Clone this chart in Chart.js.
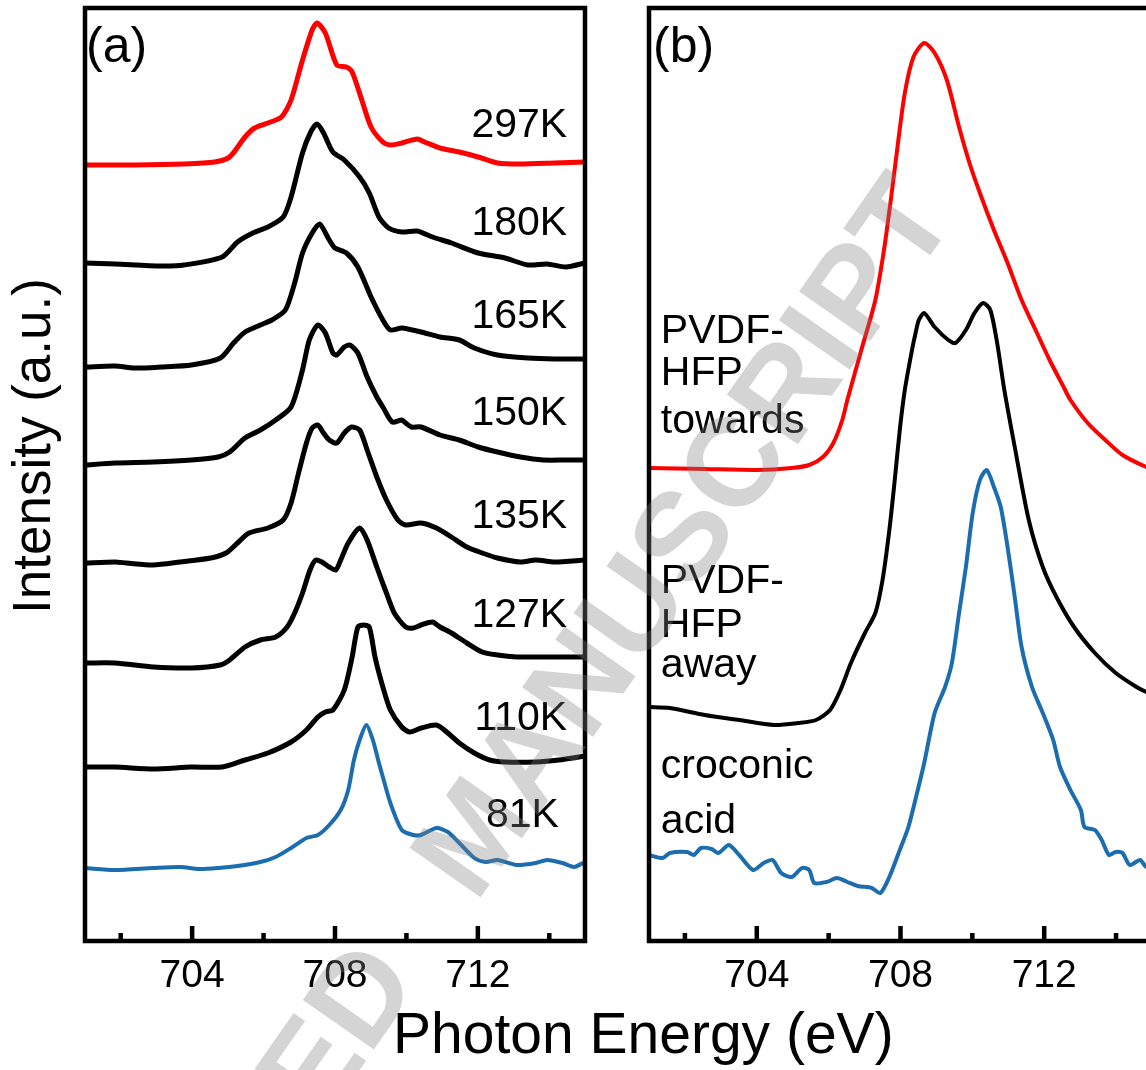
<!DOCTYPE html>
<html>
<head>
<meta charset="utf-8">
<script src="https://cdn.jsdelivr.net/npm/chart.js@4.4.1/dist/chart.umd.min.js"></script>
<style>
html, body { margin: 0; padding: 0; background: #fff; }
body { width: 1146px; height: 1070px; overflow: hidden; position: relative; font-family: "Liberation Sans", Arial, sans-serif; }
canvas { position: absolute; top: 0; }
#panelA { left: 0; }
#panelB { left: 600px; }
#xTitle { position: absolute; left: 393px; top: 1005px; font-size: 57px; line-height: 57px; white-space: nowrap; color: #000; }
#stamp { position: absolute; left: 455px; top: 858px; transform-origin: 0 0; transform: rotate(-55deg) translate(-50%, -50%);
  font: bold 126px "Liberation Sans", Arial, sans-serif; word-spacing: 60px; color: rgba(128,128,128,0.34); white-space: nowrap; pointer-events: none; }
</style>
</head>
<body>
<canvas id="panelA" width="600" height="1070"></canvas>
<canvas id="panelB" width="600" height="1070"></canvas>
<div id="xTitle">Photon Energy (eV)</div>
<div id="stamp">ACCEPTED MANUSCRIPT</div>
<script>
// x axis (photon energy, eV)
const eMin = 701, eMax = 715;
const majorTicks = [704, 708, 712];
const minorTicks = [702, 706, 710, 714];

// panel (a): temperature series, stacked intensity (a.u.)
const e297 = [701.0, 702.38, 703.77, 704.63, 705.05, 705.48, 705.75, 706.12, 706.5, 706.77, 707.09, 707.36, 707.5, 707.73, 708.05, 708.32, 708.48, 708.75, 709.01, 709.34, 709.55, 709.87, 710.3, 710.51, 710.94, 711.48, 712.01, 712.55, 713.19, 714.15, 715.0];
const i297 = [776, 776, 777, 779, 784, 804, 813, 818, 824, 841, 881, 911, 918, 908, 876, 874, 869, 841, 814, 799, 796, 798, 802, 799, 793, 789, 784, 778, 777, 778, 779];

const e180 = [701.0, 701.84, 703.13, 703.77, 704.84, 705.27, 705.7, 706.12, 706.55, 706.77, 707.09, 707.32, 707.5, 707.68, 707.94, 708.26, 708.69, 708.96, 709.23, 709.5, 709.87, 710.3, 710.73, 711.26, 712.01, 712.76, 713.4, 713.94, 714.47, 715.0];
const i180 = [678, 677, 675, 676, 684, 699, 708, 714, 724, 744, 788, 809, 817, 808, 789, 781, 764, 748, 724, 713, 709, 710, 704, 698, 688, 683, 676, 677, 674, 678];

const e165 = [701.0, 701.84, 702.38, 703.13, 703.98, 704.79, 705.16, 705.48, 705.91, 706.23, 706.61, 706.87, 707.09, 707.36, 707.57, 707.84, 708.0, 708.32, 708.64, 709.01, 709.34, 709.55, 709.87, 710.41, 710.94, 711.48, 711.9, 712.55, 713.4, 714.15, 715.0];
const i165 = [574, 575, 573, 574, 576, 583, 598, 609, 616, 621, 631, 658, 688, 708, 717, 701, 693, 688, 674, 644, 621, 611, 613, 609, 604, 601, 593, 586, 583, 582, 582];

const e150 = [701.0, 701.84, 702.91, 703.98, 704.73, 705.05, 705.48, 705.91, 706.34, 706.77, 707.09, 707.28, 707.52, 707.73, 707.94, 708.05, 708.26, 708.42, 708.64, 708.9, 709.17, 709.34, 709.6, 709.87, 709.98, 710.14, 710.41, 710.94, 711.48, 712.01, 712.55, 713.19, 713.83, 714.47, 715.0];
const i150 = [476, 478, 479, 481, 484, 489, 503, 511, 521, 534, 571, 601, 616, 608, 588, 586, 594, 596, 588, 564, 544, 534, 519, 521, 518, 514, 514, 506, 501, 494, 489, 484, 481, 481, 481];

const e135 = [701.0, 701.84, 702.16, 702.91, 703.66, 704.52, 704.95, 705.27, 705.59, 706.12, 706.55, 706.77, 706.98, 707.2, 707.36, 707.52, 707.68, 707.84, 708.05, 708.26, 708.46, 708.69, 708.9, 709.17, 709.44, 709.76, 709.98, 710.41, 710.84, 711.26, 711.69, 712.12, 712.55, 713.19, 713.62, 714.15, 715.0];
const i135 = [378, 379, 378, 376, 379, 383, 388, 398, 408, 413, 421, 438, 468, 498, 513, 516, 508, 501, 498, 508, 514, 511, 491, 464, 441, 421, 416, 418, 413, 404, 394, 388, 383, 379, 381, 379, 381];

const e127 = [701.0, 701.84, 702.91, 703.98, 704.79, 705.05, 705.48, 705.91, 706.34, 706.66, 706.87, 707.09, 707.3, 707.46, 707.63, 707.84, 708.02, 708.16, 708.37, 708.69, 708.9, 709.17, 709.44, 709.66, 709.98, 710.19, 710.41, 710.73, 710.94, 711.26, 711.69, 712.12, 712.55, 713.08, 713.62, 714.15, 715.0];
const i127 = [278, 278, 274, 273, 276, 281, 294, 301, 304, 314, 328, 348, 371, 381, 379, 374, 371, 381, 398, 413, 401, 374, 348, 328, 314, 313, 316, 319, 314, 308, 298, 289, 286, 284, 284, 284, 284];

const e110 = [701.0, 701.84, 702.91, 703.98, 704.84, 705.48, 706.12, 706.77, 707.2, 707.52, 707.73, 707.94, 708.26, 708.48, 708.64, 708.8, 708.96, 709.12, 709.34, 709.55, 709.87, 710.09, 710.41, 710.84, 711.16, 711.48, 711.9, 712.33, 712.76, 713.62, 714.26, 715.0];
const i110 = [174, 174, 172, 174, 174, 181, 188, 199, 211, 224, 229, 231, 251, 284, 314, 316, 314, 284, 254, 231, 214, 209, 213, 216, 208, 198, 188, 181, 179, 179, 181, 185];

const e81 = [701.0, 701.84, 702.91, 703.66, 704.2, 704.73, 705.27, 705.91, 706.34, 706.77, 707.2, 707.52, 707.84, 708.16, 708.37, 708.53, 708.69, 708.88, 709.06, 709.23, 709.34, 709.55, 709.87, 710.19, 710.41, 710.84, 711.16, 711.48, 711.9, 712.22, 712.55, 713.08, 713.62, 713.94, 714.37, 714.69, 715.0];
const i81 = [73, 71, 73, 74, 72, 73, 75, 79, 84, 93, 103, 106, 116, 131, 151, 181, 201, 216, 201, 178, 164, 138, 111, 106, 106, 113, 109, 98, 83, 79, 81, 76, 78, 81, 78, 74, 79];

// panel (b): polarization direction and reference
const eTowards = [701.0, 702.55, 704.0, 704.97, 705.46, 705.84, 706.13, 706.38, 706.52, 706.91, 707.3, 707.54, 707.73, 707.93, 708.12, 708.36, 708.66, 708.95, 709.29, 709.63, 709.92, 710.21, 710.6, 710.98, 711.37, 711.76, 712.15, 712.54, 712.73, 713.21, 713.7, 714.18, 714.84, 715.0];
const iTowards = [473, 472, 471, 473, 476, 484, 498, 521, 541, 591, 641, 691, 741, 798, 848, 884, 898, 888, 861, 814, 778, 748, 711, 678, 641, 611, 581, 554, 541, 518, 501, 486, 474, 473];

const eAway = [701.0, 701.58, 702.55, 703.51, 704.48, 705.16, 705.65, 706.04, 706.33, 706.62, 707.01, 707.3, 707.5, 707.69, 707.84, 707.98, 708.12, 708.32, 708.42, 708.51, 708.66, 708.95, 709.33, 709.53, 709.82, 710.06, 710.3, 710.5, 710.69, 710.89, 711.18, 711.57, 711.96, 712.34, 712.83, 713.41, 713.99, 714.57, 714.84, 715.0];
const iAway = [234, 233, 226, 221, 216, 218, 221, 231, 251, 278, 308, 328, 361, 411, 461, 511, 551, 591, 608, 621, 628, 614, 601, 598, 611, 628, 638, 631, 598, 551, 494, 421, 374, 344, 314, 288, 268, 254, 249, 247];

const eCroconic = [701.0, 701.38, 701.58, 702.06, 702.25, 702.45, 702.74, 702.93, 703.22, 703.51, 703.9, 704.19, 704.44, 704.68, 704.97, 705.26, 705.46, 705.6, 705.94, 706.23, 706.52, 706.81, 707.2, 707.44, 707.69, 707.98, 708.22, 708.46, 708.66, 708.95, 709.24, 709.43, 709.63, 709.82, 710.01, 710.21, 710.4, 710.6, 710.79, 710.98, 711.18, 711.37, 711.66, 711.96, 712.25, 712.44, 712.73, 713.02, 713.12, 713.41, 713.6, 713.8, 713.99, 714.18, 714.38, 714.67, 714.84, 715.0];
const iCroconic = [86, 83, 88, 89, 86, 93, 92, 88, 96, 86, 71, 78, 81, 68, 64, 73, 71, 58, 59, 63, 59, 55, 53, 48, 64, 91, 114, 148, 178, 228, 254, 278, 328, 374, 428, 461, 471, 454, 434, 394, 344, 294, 254, 228, 201, 174, 151, 131, 114, 111, 101, 86, 89, 88, 76, 81, 74, 79];

const RED = '#ff0000', BLACK = '#000000', BLUE = '#1b6db0';
const FONT = '"Liberation Sans", Arial, sans-serif';

Chart.defaults.font.family = FONT;

const pts = (e, v) => e.map((x, k) => ({ x: x, y: v[k] }));

// frame, inward ticks and text annotations
const panelDeco = {
  id: 'panelDeco',
  afterDatasetsDraw(chart, args, opts) {
    const { ctx, chartArea, scales } = chart;
    const { left, right, top, bottom } = chartArea;
    const x = scales.x, y = scales.y;
    ctx.save();
    ctx.strokeStyle = '#000';
    ctx.lineWidth = 4.5;
    ctx.beginPath();
    majorTicks.forEach(v => { const p = x.getPixelForValue(v); ctx.moveTo(p, bottom); ctx.lineTo(p, bottom - 15); });
    minorTicks.forEach(v => { const p = x.getPixelForValue(v); ctx.moveTo(p, bottom); ctx.lineTo(p, bottom - 8); });
    ctx.stroke();
    ctx.strokeRect(left, top, right - left, bottom - top);

    ctx.fillStyle = '#000';
    ctx.textBaseline = 'alphabetic';
    ctx.textAlign = 'left';
    ctx.font = '50px ' + FONT;
    ctx.fillText(opts.tag, left + opts.tagDx, top + 54);

    ctx.font = '41px ' + FONT;
    opts.notes.forEach(n => {
      ctx.textAlign = n.align;
      ctx.fillText(n.text, x.getPixelForValue(n.x), y.getPixelForValue(n.y));
    });

    if (opts.yTitle) {
      ctx.translate(50, 446);
      ctx.rotate(-Math.PI / 2);
      ctx.textAlign = 'center';
      ctx.font = '53px ' + FONT;
      ctx.fillText(opts.yTitle, 0, 0);
    }
    ctx.restore();
  }
};

function line(e, v, color, width) {
  return { data: pts(e, v), borderColor: color, borderWidth: width, pointRadius: 0, tension: 0.25, fill: false };
}

function makePanel(id, datasets, pad, deco) {
  return new Chart(document.getElementById(id), {
    type: 'line',
    data: { datasets: datasets },
    options: {
      responsive: false,
      animation: false,
      devicePixelRatio: 1,
      events: [],
      layout: { padding: pad },
      plugins: { legend: { display: false }, tooltip: { enabled: false }, panelDeco: deco },
      scales: {
        x: {
          type: 'linear', min: eMin, max: eMax,
          grid: { display: false, drawTicks: false },
          border: { display: false },
          afterBuildTicks: s => { s.ticks = majorTicks.map(v => ({ value: v })); },
          afterFit: s => { s.height = 129; },
          ticks: { color: '#000', font: { size: 39 }, padding: 12, maxRotation: 0, autoSkip: false }
        },
        y: { display: false, min: 0, max: 933 }
      }
    },
    plugins: [panelDeco]
  });
}

makePanel('panelA', [
  line(e297, i297, RED, 5),
  line(e180, i180, BLACK, 5),
  line(e165, i165, BLACK, 5),
  line(e150, i150, BLACK, 5),
  line(e135, i135, BLACK, 5),
  line(e127, i127, BLACK, 5),
  line(e110, i110, BLACK, 5),
  line(e81, i81, BLUE, 4)
], { left: 85, right: 15, top: 8, bottom: 0 }, {
  tag: '(a)', tagDx: 1, yTitle: 'Intensity (a.u.)',
  notes: [
    { text: '297K', x: 714.5, y: 804, align: 'right' },
    { text: '180K', x: 714.5, y: 706, align: 'right' },
    { text: '165K', x: 714.5, y: 613, align: 'right' },
    { text: '150K', x: 714.5, y: 516, align: 'right' },
    { text: '135K', x: 714.5, y: 413, align: 'right' },
    { text: '127K', x: 714.5, y: 314, align: 'right' },
    { text: '110K', x: 714.5, y: 211, align: 'right' },
    { text: '81K', x: 714.27, y: 114, align: 'right' }
  ]
});

makePanel('panelB', [
  line(eTowards, iTowards, RED, 4),
  line(eAway, iAway, BLACK, 4),
  line(eCroconic, iCroconic, BLUE, 4)
], { left: 49, right: 48, top: 8, bottom: 0 }, {
  tag: '(b)', tagDx: 4,
  notes: [
    { text: 'PVDF-', x: 701.33, y: 598, align: 'left' },
    { text: 'HFP', x: 701.33, y: 556, align: 'left' },
    { text: 'towards', x: 701.33, y: 508, align: 'left' },
    { text: 'PVDF-', x: 701.33, y: 348, align: 'left' },
    { text: 'HFP', x: 701.33, y: 304, align: 'left' },
    { text: 'away', x: 701.33, y: 264, align: 'left' },
    { text: 'croconic', x: 701.33, y: 163, align: 'left' },
    { text: 'acid', x: 701.33, y: 108, align: 'left' }
  ]
});
</script>
</body>
</html>
